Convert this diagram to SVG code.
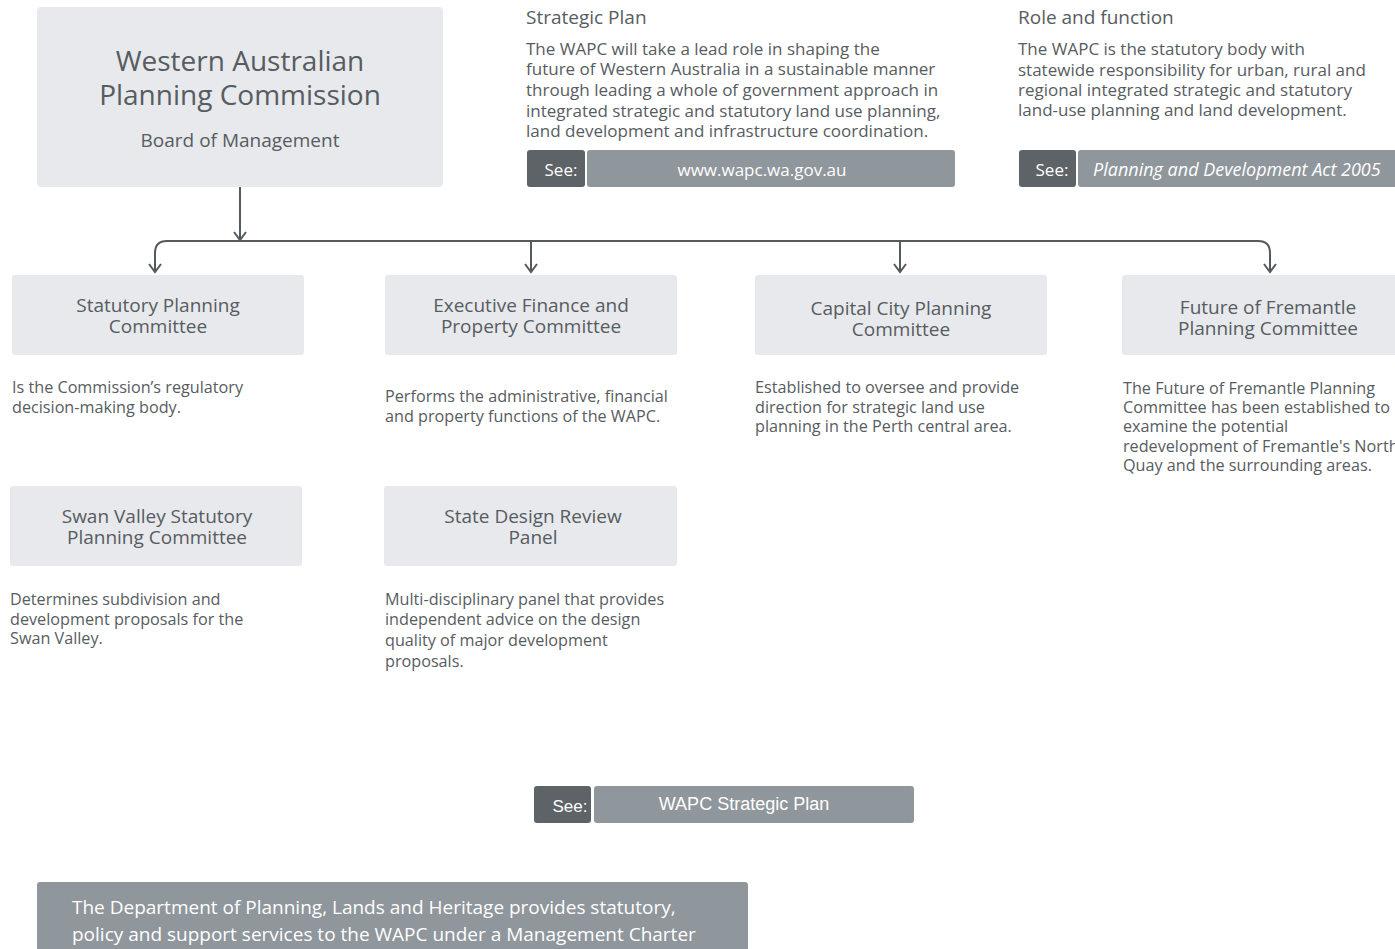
<svg xmlns="http://www.w3.org/2000/svg" width="1395" height="949" viewBox="0 0 1395 949">
<defs>
<style>
text{font-family:"Open Sans","Noto Sans","DejaVu Sans",sans-serif;fill:#575c61}
.box{fill:#e7e9ec}
.t1{font-size:28px;text-anchor:middle}
.t2{font-size:19px;text-anchor:middle}
.nt{font-size:19px;text-anchor:middle}
.d{font-size:16.2px}
.p{font-size:17px}
.h{font-size:19px}
.dk{fill:#5e6368}
.lt{fill:#8f969c}
.w{fill:#ffffff;font-size:17px}
.wa{fill:#ffffff;font-size:17px;font-family:"Liberation Sans",Arial,sans-serif}
.con{fill:none;stroke:#555a5f;stroke-width:2}
</style>
<marker id="ah" viewBox="0 0 12 14" refX="10" refY="7" markerWidth="12" markerHeight="14" markerUnits="userSpaceOnUse" orient="auto-start-reverse">
<path d="M2,1 L10,7 L2,13" fill="none" stroke="#555a5f" stroke-width="2"/>
</marker>
</defs>
<rect width="1395" height="949" fill="#ffffff"/>

<g id="wapc">
<rect class="box" x="37" y="7" width="406" height="180" rx="4"/>
<text class="t1" x="240" y="71">Western Australian</text>
<text class="t1" x="240" y="105">Planning Commission</text>
<text class="t2" x="240" y="147">Board of Management</text>
</g>

<g id="strategic-plan">
<text class="h" x="526" y="24">Strategic Plan</text>
<text class="p" x="526" y="55">The WAPC will take a lead role in shaping the</text>
<text class="p" x="526" y="75">future of Western Australia in a sustainable manner</text>
<text class="p" x="526" y="96">through leading a whole of government approach in</text>
<text class="p" x="526" y="117">integrated strategic and statutory land use planning,</text>
<text class="p" x="526" y="137">land development and infrastructure coordination.</text>
<rect class="dk" x="527" y="150" width="58" height="37" rx="3"/>
<rect class="lt" x="587" y="150" width="368" height="37" rx="3"/>
<text class="w" x="561" y="176" text-anchor="middle">See:</text>
<text class="w" x="762" y="176" text-anchor="middle">www.wapc.wa.gov.au</text>
</g>

<g id="role-function">
<text class="h" x="1018" y="24">Role and function</text>
<text class="p" x="1018" y="55">The WAPC is the statutory body with</text>
<text class="p" x="1018" y="76">statewide responsibility for urban, rural and</text>
<text class="p" x="1018" y="96">regional integrated strategic and statutory</text>
<text class="p" x="1018" y="116">land-use planning and land development.</text>
<rect class="dk" x="1019" y="150" width="57" height="37" rx="3"/>
<rect class="lt" x="1078" y="150" width="330" height="37" rx="3"/>
<text class="w" x="1052" y="176" text-anchor="middle">See:</text>
<text class="w" x="1093" y="176" font-style="italic" style="font-size:18px">Planning and Development Act 2005</text>
</g>

<g id="connectors">
<line class="con" x1="240" y1="187" x2="240" y2="240" marker-end="url(#ah)"/>
<path class="con" d="M155,272 V253 Q155,241 167,241 H1258 Q1270,241 1270,253 V272" marker-start="url(#ah)" marker-end="url(#ah)"/>
<line class="con" x1="531" y1="241" x2="531" y2="272" marker-end="url(#ah)"/>
<line class="con" x1="900" y1="241" x2="900" y2="272" marker-end="url(#ah)"/>
</g>

<g id="statutory">
<rect class="box" x="12" y="275" width="292" height="80" rx="3"/>
<text class="nt" x="158" y="312">Statutory Planning</text>
<text class="nt" x="158" y="333">Committee</text>
<text class="d" x="12" y="393">Is the Commission’s regulatory</text>
<text class="d" x="12" y="413">decision-making body.</text>
</g>

<g id="executive">
<rect class="box" x="385" y="275" width="292" height="80" rx="3"/>
<text class="nt" x="531" y="312">Executive Finance and</text>
<text class="nt" x="531" y="333">Property Committee</text>
<text class="d" x="385" y="402">Performs the administrative, financial</text>
<text class="d" x="385" y="422">and property functions of the WAPC.</text>
</g>

<g id="capital">
<rect class="box" x="755" y="275" width="292" height="80" rx="3"/>
<text class="nt" x="901" y="315">Capital City Planning</text>
<text class="nt" x="901" y="336">Committee</text>
<text class="d" x="755" y="393">Established to oversee and provide</text>
<text class="d" x="755" y="413">direction for strategic land use</text>
<text class="d" x="755" y="432">planning in the Perth central area.</text>
</g>

<g id="fremantle">
<rect class="box" x="1122" y="275" width="292" height="80" rx="3"/>
<text class="nt" x="1268" y="314">Future of Fremantle</text>
<text class="nt" x="1268" y="335">Planning Committee</text>
<text class="d" x="1123" y="394">The Future of Fremantle Planning</text>
<text class="d" x="1123" y="413">Committee has been established to</text>
<text class="d" x="1123" y="432">examine the potential</text>
<text class="d" x="1123" y="452">redevelopment of Fremantle's North</text>
<text class="d" x="1123" y="471">Quay and the surrounding areas.</text>
</g>

<g id="swan-valley">
<rect class="box" x="10" y="486" width="292" height="80" rx="3"/>
<text class="nt" x="157" y="523">Swan Valley Statutory</text>
<text class="nt" x="157" y="544">Planning Committee</text>
<text class="d" x="10" y="605">Determines subdivision and</text>
<text class="d" x="10" y="625">development proposals for the</text>
<text class="d" x="10" y="644">Swan Valley.</text>
</g>

<g id="design-review">
<rect class="box" x="384" y="486" width="293" height="80" rx="3"/>
<text class="nt" x="533" y="523">State Design Review</text>
<text class="nt" x="533" y="544">Panel</text>
<text class="d" x="385" y="605">Multi-disciplinary panel that provides</text>
<text class="d" x="385" y="625">independent advice on the design</text>
<text class="d" x="385" y="646">quality of major development</text>
<text class="d" x="385" y="667">proposals.</text>
</g>

<g id="see-strategic">
<rect class="dk" x="534" y="786" width="57" height="37" rx="3"/>
<rect class="lt" x="594" y="786" width="320" height="37" rx="3"/>
<text class="wa" x="570" y="812" text-anchor="middle">See:</text>
<text class="wa" x="744" y="810" text-anchor="middle" style="font-size:18px">WAPC Strategic Plan</text>
</g>

<g id="department">
<rect class="lt" x="37" y="882" width="711" height="80" rx="3"/>
<text class="w" x="72" y="914" style="font-size:19px">The Department of Planning, Lands and Heritage provides statutory,</text>
<text class="w" x="72" y="941" style="font-size:19px">policy and support services to the WAPC under a Management Charter</text>
</g>
</svg>
